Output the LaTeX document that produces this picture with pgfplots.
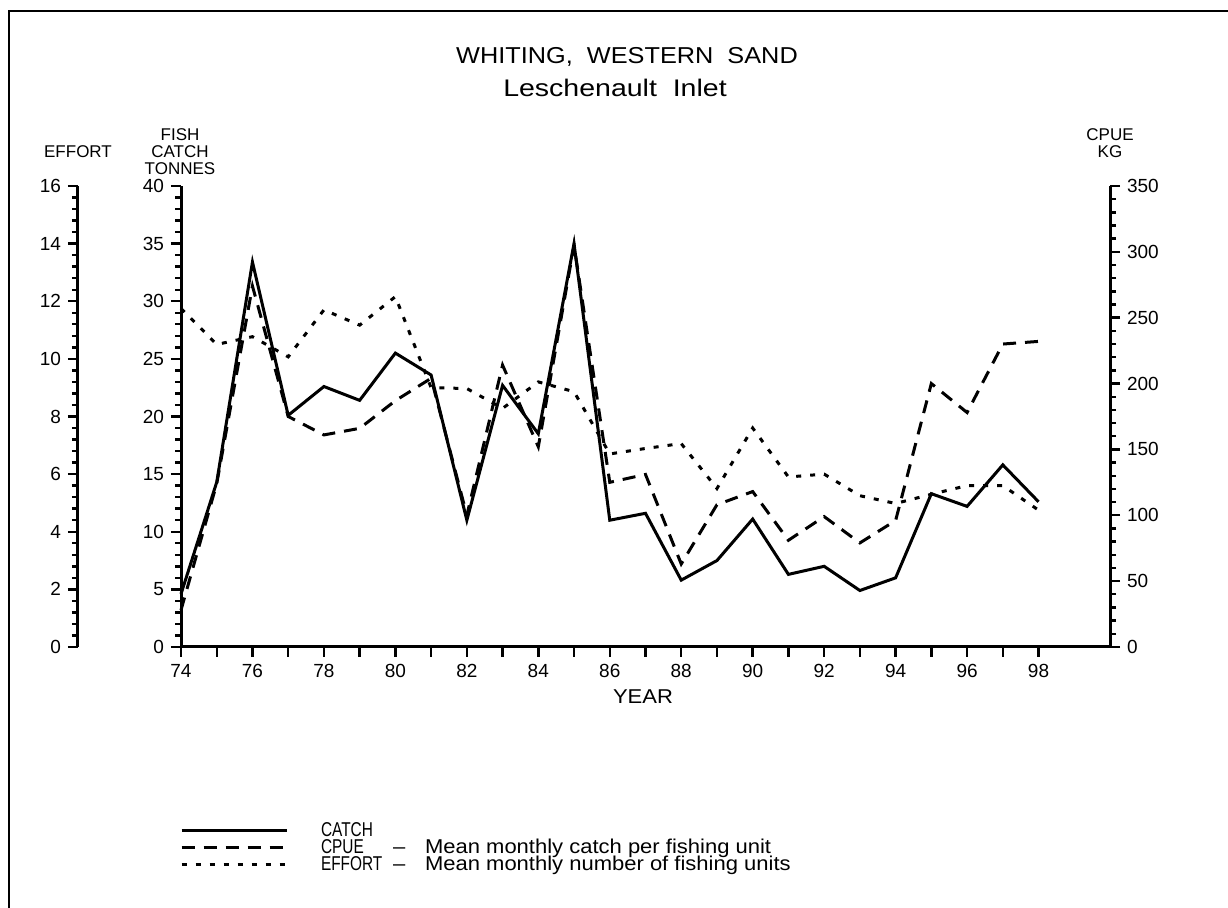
\documentclass[border=0pt]{standalone}
\usepackage{fontspec}
\setmainfont{Liberation Sans}[FakeStretch=1.1]
\newfontfamily\plainsans{Liberation Sans}
\usepackage{graphicx}
\usepackage{pgfplots}
\pgfplotsset{compat=1.18}

\pgfplotstableread{
year catch cpue effort
74 4.6 28 11.75
75 14.3 124 10.5
76 33.4 274 10.77
77 20.1 175 10.07
78 22.6 161 11.7
79 21.4 166 11.17
80 25.5 187 12.16
81 23.6 204 9.0
82 11.0 100 8.97
83 22.7 214 8.28
84 18.5 152 9.2
85 35.0 305 8.86
86 11.0 125 6.7
87 11.6 131 6.89
88 5.8 63 7.06
89 7.5 108 5.5
90 11.1 118 7.6
91 6.3 81 5.9
92 7.0 99 6.0
93 4.9 79 5.25
94 6.0 96 4.98
95 13.3 200 5.3
96 12.2 178 5.6
97 15.8 230 5.6
98 12.6 232 4.75
}\datatable

\newcommand\UC[1]{\scalebox{0.7}[1]{#1}}

\pgfplotsset{
  common/.style={
    scale only axis, width=464.5pt, height=230.5pt,
    xmin=74, xmax=100,
    axis line style={line width=1.5pt, black},
    tick style={line width=1.2pt, black},
    tick align=outside,
    major tick length=5pt, minor tick length=3pt,
    tick label style={font=\plainsans\fontsize{9.5}{11}\selectfont},
    /pgf/number format/assume math mode=true,
    clip=false,
  },
  catchstyle/.style={black, line width=1.5pt},
  cpuestyle/.style={black, line width=1.5pt, dash pattern=on 6.5pt off 4.5pt},
  effortstyle/.style={black, line width=1.5pt, dash pattern=on 2.5pt off 4.5pt},
}

\begin{document}
\begin{tikzpicture}
\useasboundingbox (0,0) rectangle (614pt,454pt);
\draw[line width=1pt] (4.5pt,0pt) -- (4.5pt,448.5pt) -- (614pt,448.5pt);

% titles
\node[font=\fontsize{11.5}{13}\selectfont] at (313.5pt,425.5pt) {WHITING,\ \ WESTERN\ \ SAND};
\node[font=\fontsize{12}{13}\selectfont] at (307.5pt,410pt) {\scalebox{1.08}[1]{Leschenault\ \ Inlet}};

% axis labels
\begin{scope}[every node/.style={font=\plainsans\fontsize{8.5}{9}\selectfont}]
\node at (39pt,378pt) {EFFORT};
\node at (90pt,386.5pt) {FISH};
\node at (90pt,378pt) {CATCH};
\node at (90pt,369.75pt) {TONNES};
\node at (555pt,386.5pt) {CPUE};
\node at (555pt,378pt) {KG};
\end{scope}
\node[font=\fontsize{10}{12}\selectfont] at (321.5pt,105.5pt) {YEAR};

% effort axis (separate)
\begin{axis}[common, at={(39pt,130.5pt)}, anchor=south west, width=51.5pt,
  xmin=0, xmax=1, hide x axis, axis y line*=left,
  ymin=0, ymax=16, ytick={0,2,...,16}, minor y tick num=4]
\addplot[draw=none] coordinates {(0,0)};
\end{axis}

% effort data
\begin{axis}[common, at={(90.5pt,130.5pt)}, anchor=south west,
  ymin=0, ymax=16, hide axis]
\addplot[effortstyle] table[x=year, y=effort] {\datatable};
\end{axis}

% cpue
\begin{axis}[common, at={(90.5pt,130.5pt)}, anchor=south west,
  ymin=0, ymax=350, hide x axis, axis y line*=right,
  ytick={0,50,...,350}, minor y tick num=4]
\addplot[cpuestyle] table[x=year, y=cpue] {\datatable};
\end{axis}

% catch (main)
\begin{axis}[common, at={(90.5pt,130.5pt)}, anchor=south west,
  axis x line*=bottom, axis y line*=left,
  ymin=0, ymax=40, ytick={0,5,...,40}, minor y tick num=4,
  xtick={74,...,98},
  xticklabels={74,,76,,78,,80,,82,,84,,86,,88,,90,,92,,94,,96,,98},
  legend image code/.code={\draw[#1] (0pt,0pt) -- (52.5pt,0pt);},
  legend cell align=left,
  legend style={at={(-0.001,-0.379)}, anchor=north west, draw=none, fill=none,
    inner sep=0pt, outer sep=0pt, font=\fontsize{10}{12}\selectfont,
    nodes={inner sep=0pt, text height=7.5pt, text depth=1pt},
    /tikz/column sep=16.5pt, /tikz/row sep=0pt},
]
\addplot[catchstyle] table[x=year, y=catch] {\datatable};
\addlegendentry{\UC{CATCH}}
\addlegendimage{cpuestyle}
\addlegendentry{\hbox to 36pt{\UC{CPUE}\hfil}\hbox to 16pt{--\hfil}Mean monthly catch per fishing unit}
\addlegendimage{effortstyle}
\addlegendentry{\hbox to 36pt{\UC{EFFORT}\hfil}\hbox to 16pt{--\hfil}Mean monthly number of fishing units}
\end{axis}
\end{tikzpicture}
\end{document}
